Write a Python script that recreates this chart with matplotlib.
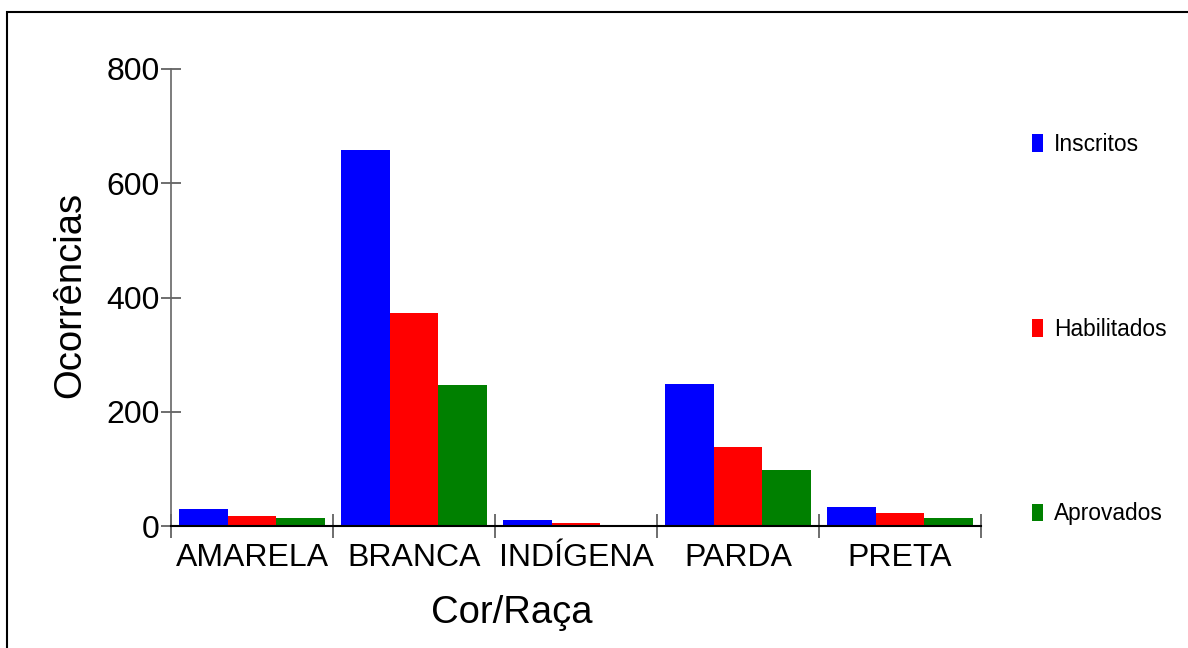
import numpy as np
import matplotlib
matplotlib.use('Agg')
import matplotlib.pyplot as plt
from matplotlib.patches import Patch, Rectangle

plt.rcParams['font.family'] = ['Liberation Sans', 'DejaVu Sans']

# data
categorias = ['AMARELA', 'BRANCA', 'INDÍGENA', 'PARDA', 'PRETA']
inscritos = [29, 658, 10, 249, 34]
habilitados = [17, 373, 5, 138, 22]
aprovados = [14, 247, 2, 98, 14]
series = ['Inscritos', 'Habilitados', 'Aprovados']
cores = ['#0000ff', '#ff0000', '#008000']

fig = plt.figure(figsize=(11.88, 6.48), dpi=100)
# outer frame (cut off on the right and bottom)
fig.patches.append(Rectangle((7/1188, -0.1), 1.2, 1 - 12/648 + 0.1, transform=fig.transFigure,
                             fill=False, edgecolor='black', linewidth=1.5))

ax = fig.add_axes([171/1188, 1 - 526/648, 810/1188, 457/648])
x = np.arange(1, len(categorias) + 1)
w = 0.3
for i, (vals, cor) in enumerate(zip([inscritos, habilitados, aprovados], cores)):
    ax.bar(x + (i - 1) * w, vals, width=w, color=cor, linewidth=0)

ax.set_xlim(0.5, len(categorias) + 0.5)
ax.set_ylim(0, 800)
ax.set_yticks([0, 200, 400, 600, 800])

ax.set_xticks(x)
ax.set_xticklabels(categorias, fontsize=23)
ax.tick_params(axis='x', which='major', length=0, pad=12)
ax.set_xticks(np.arange(0.5, len(categorias) + 1), minor=True)
ax.tick_params(axis='x', which='minor', direction='inout', length=17, color='#555555', width=1.2)
ax.tick_params(axis='y', direction='inout', length=14, color='#555555', width=1.2,
               labelsize=23, pad=1)

for s in ['top', 'right']:
    ax.spines[s].set_visible(False)
ax.spines['left'].set_color('#666666')
ax.spines['bottom'].set_color('black')
ax.spines['left'].set_linewidth(1.2)
ax.spines['bottom'].set_linewidth(1.5)

ax.set_xlabel('Cor/Raça', fontsize=27.5)
ax.xaxis.set_label_coords((512 - 171) / 810, -(613 - 526) / 457)
ax.xaxis.label.set_va('center')
ax.set_ylabel('Ocorrências', fontsize=27.5)
ax.yaxis.set_label_coords(-(171 - 70) / 810, (526 - 295) / 457)
ax.yaxis.label.set_va('center')

handles = [Patch(facecolor=c, edgecolor='none') for c in cores]
fig.legend(handles, series, loc='upper left', bbox_to_anchor=(1032/1188, 1 - 133/648),
           frameon=False, fontsize=16.4, handlelength=0.48, handleheight=0.8,
           handletextpad=0.48, labelspacing=7.1, borderaxespad=0, borderpad=0)

fig.savefig('out.png', dpi=100, facecolor='white')
